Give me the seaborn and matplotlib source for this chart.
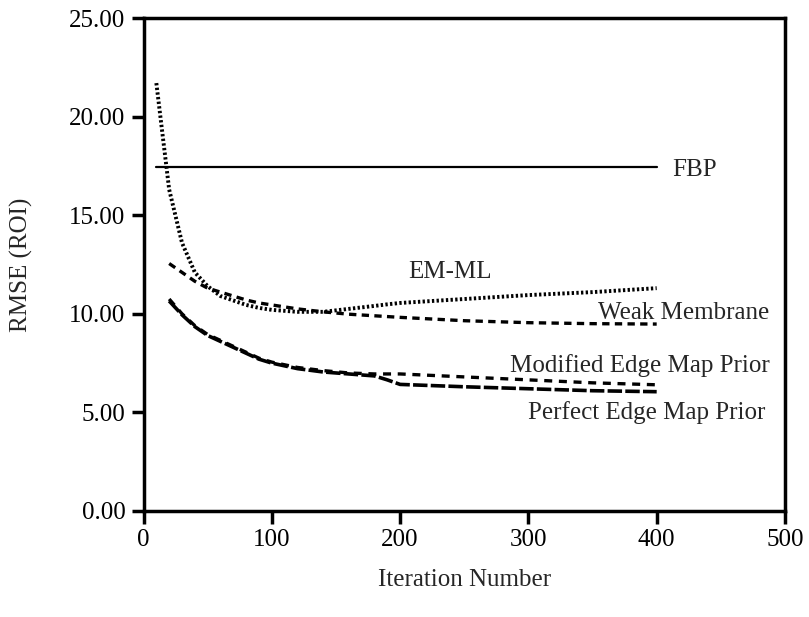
import numpy as np
import pandas as pd
import seaborn as sns
import matplotlib.pyplot as plt

# iteration grid shared by the iterative methods
iters = [20, 30, 40, 50, 60, 80, 90, 100, 120, 140, 160, 180, 190, 200, 250, 300, 350, 400]

# EM-ML starts one step earlier (iteration 10)
emml_iters = [10] + iters
emml = [21.7, 16.3, 13.6, 12.1, 11.4, 10.9, 10.45, 10.3, 10.2, 10.1, 10.1,
        10.25, 10.4, 10.48, 10.55, 10.75, 10.95, 11.1, 11.3]

weak_membrane = [12.55, 12.1, 11.65, 11.3, 11.1, 10.7, 10.55, 10.45, 10.25, 10.1,
                 9.98, 9.9, 9.86, 9.82, 9.65, 9.55, 9.5, 9.48]

modified_edge = [10.75, 10.0, 9.4, 8.95, 8.65, 8.05, 7.75, 7.55, 7.28, 7.12,
                 7.0, 6.95, 6.95, 6.95, 6.8, 6.65, 6.5, 6.4]

perfect_edge = [10.65, 9.95, 9.35, 8.9, 8.6, 8.0, 7.7, 7.5, 7.22, 7.05,
                6.95, 6.85, 6.65, 6.42, 6.3, 6.2, 6.1, 6.05]

fbp_iters = [10, 400]
fbp = [17.45, 17.45]

yticks = [0, 5, 10, 15, 20, 25]
xticks = [0, 100, 200, 300, 400, 500]

sns.set_style("ticks")
plt.rcParams["font.family"] = ["Liberation Serif", "DejaVu Serif"]

fig = plt.figure(figsize=(8.09, 6.17), dpi=100)
ax = fig.add_axes([0.1774, 0.1718, 0.7929, 0.799])

sns.lineplot(x=fbp_iters, y=fbp, ax=ax, color="black", linewidth=1.6, linestyle="-")
sns.lineplot(x=emml_iters, y=emml, ax=ax, color="black", linewidth=2.8,
             linestyle=(0, (0.6, 0.6)))
sns.lineplot(x=iters, y=weak_membrane, ax=ax, color="black", linewidth=2.4,
             linestyle=(0, (2.2, 1.6)))
sns.lineplot(x=iters, y=modified_edge, ax=ax, color="black", linewidth=2.4,
             linestyle=(0, (2.4, 2.0)))
sns.lineplot(x=iters, y=perfect_edge, ax=ax, color="black", linewidth=2.6,
             linestyle=(0, (4.0, 0.9)))

# series labels
fs = 18
ax.text(412, 17.3, "FBP", fontsize=fs, va="center", ha="left")
ax.text(239, 12.1, "EM-ML", fontsize=fs, va="center", ha="center")
ax.text(488, 10.05, "Weak Membrane", fontsize=fs, va="center", ha="right")
ax.text(488, 7.4, "Modified Edge Map Prior", fontsize=fs, va="center", ha="right")
ax.text(485, 4.97, "Perfect Edge Map Prior", fontsize=fs, va="center", ha="right")

ax.set_xlim(0, 500)
ax.set_ylim(0, 25)
ax.set_xticks(xticks)
ax.set_yticks(yticks)
ax.set_yticklabels([f"{v:.2f}" for v in yticks])
ax.tick_params(axis="both", direction="out", length=9, width=2.5,
               labelsize=fs, colors="black", pad=4)

for side in ["left", "right", "top", "bottom"]:
    ax.spines[side].set_visible(True)
    ax.spines[side].set_linewidth(2.5)
    ax.spines[side].set_color("black")

ax.set_xlabel("Iteration Number", fontsize=fs, labelpad=13)
ax.set_ylabel("RMSE (ROI)", fontsize=fs, labelpad=26)

fig.savefig("out.png", dpi=100)
